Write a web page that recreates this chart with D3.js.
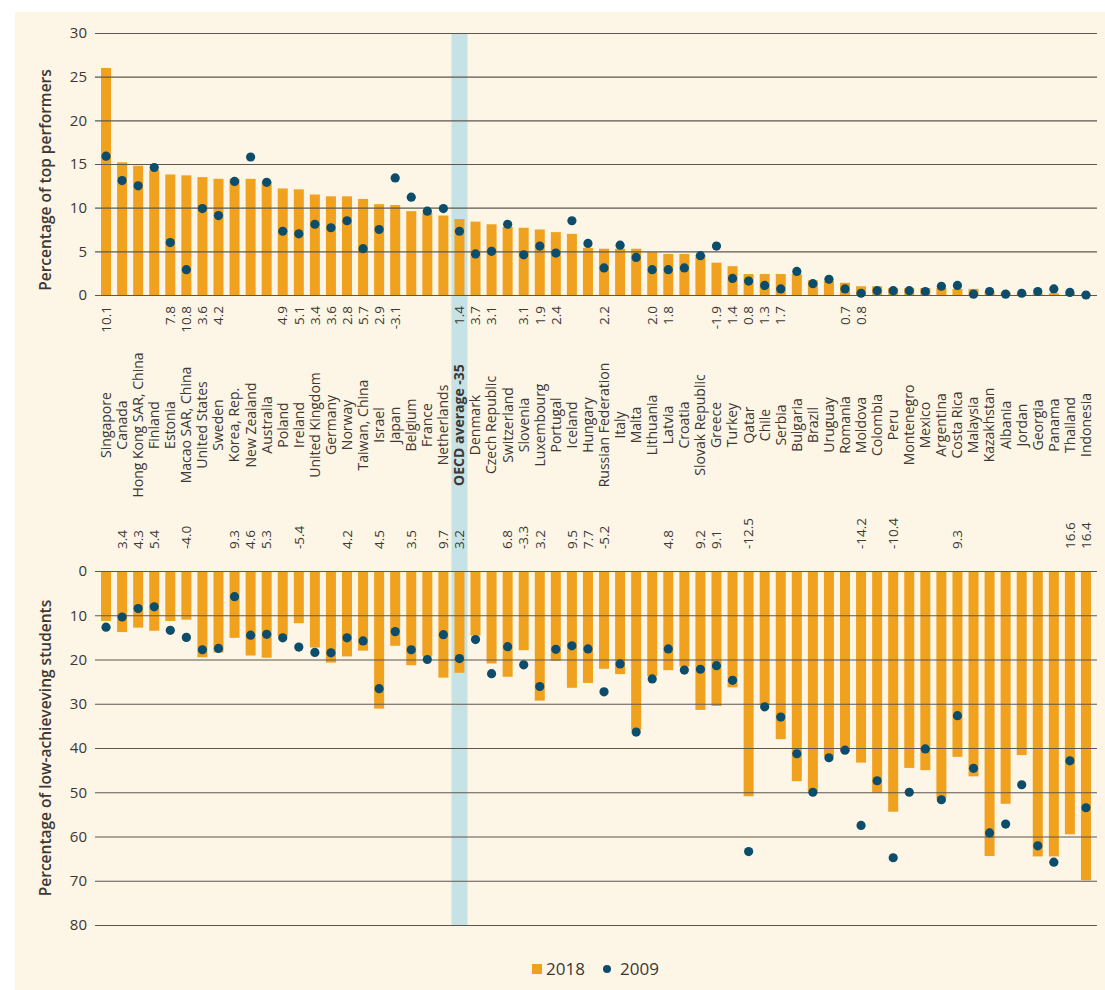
<!DOCTYPE html>
<html><head><meta charset="utf-8">
<script src="https://cdn.jsdelivr.net/npm/d3@7"></script>
<style>
body{margin:0;background:#fff;}
svg{display:block;font-family:"Open Sans","Noto Sans",sans-serif;}
</style></head>
<body><svg id="c" width="1105" height="990"></svg>
<script>
const countries = ["Singapore","Canada","Hong Kong SAR, China","Finland","Estonia","Macao SAR, China","United States","Sweden","Korea, Rep.","New Zealand",
"Australia","Poland","Ireland","United Kingdom","Germany","Norway","Taiwan, China","Israel","Japan","Belgium",
"France","Netherlands","OECD average -35","Denmark","Czech Republic","Switzerland","Slovenia","Luxembourg","Portugal","Iceland",
"Hungary","Russian Federation","Italy","Malta","Lithuania","Latvia","Croatia","Slovak Republic","Greece","Turkey",
"Qatar","Chile","Serbia","Bulgaria","Brazil","Uruguay","Romania","Moldova","Colombia","Peru",
"Montenegro","Mexico","Argentina","Costa Rica","Malaysia","Kazakhstan","Albania","Jordan","Georgia","Panama",
"Thailand","Indonesia"];
const highlight = "OECD average -35";

const top2018 = [26.0,15.2,14.8,14.3,13.8,13.7,13.5,13.3,13.3,13.3,
13.0,12.2,12.1,11.5,11.3,11.3,11.0,10.4,10.3,9.6,
9.4,9.1,8.7,8.4,8.1,7.8,7.7,7.5,7.2,7.0,
5.4,5.3,5.3,5.3,4.9,4.7,4.7,4.6,3.7,3.3,
2.4,2.4,2.4,2.4,1.7,1.6,1.4,1.0,1.0,0.8,
0.8,0.8,0.8,0.7,0.7,0.4,0.3,0.2,0.2,0.2,
0.2,0.1];
const top2009 = [15.9,13.1,12.5,14.6,6.0,2.9,9.9,9.1,13.0,15.8,
12.9,7.3,7.0,8.1,7.7,8.5,5.3,7.5,13.4,11.2,
9.6,9.9,7.3,4.7,5.0,8.1,4.6,5.6,4.8,8.5,
5.9,3.1,5.7,4.3,2.9,2.9,3.1,4.5,5.6,1.9,
1.6,1.1,0.7,2.7,1.3,1.8,0.7,0.2,0.5,0.5,
0.5,0.4,1.0,1.1,0.1,0.4,0.1,0.2,0.4,0.7,
0.3,0.0];
const low2018 = [11.3,13.8,12.8,13.5,11.3,11.0,19.5,18.4,15.1,19.1,
19.6,14.7,11.8,17.3,20.7,19.3,18.0,31.1,16.9,21.3,
19.3,24.1,23.0,14.6,20.9,23.9,17.9,29.3,20.3,26.4,
25.3,22.1,23.3,35.9,23.8,22.4,21.6,31.4,30.5,26.3,
50.9,30.3,38.0,47.5,49.8,41.9,40.8,43.3,50.1,54.4,
44.5,45.0,51.4,42.0,46.4,64.4,52.6,41.6,64.5,64.5,
59.5,69.9];
const low2009 = [12.7,10.4,8.5,8.1,13.4,15.0,17.8,17.5,5.8,14.5,
14.3,15.1,17.2,18.4,18.5,15.1,15.8,26.6,13.7,17.8,
20.0,14.4,19.8,15.5,23.2,17.1,21.2,26.1,17.7,16.9,
17.6,27.3,21.0,36.4,24.4,17.6,22.4,22.2,21.4,24.7,
63.4,30.7,33.0,41.3,50.0,42.2,40.5,57.5,47.4,64.8,
50.0,40.2,51.7,32.7,44.6,59.2,57.2,48.3,62.1,65.8,
42.9,53.5];
const topDiff = ["10.1","","","","7.8","10.8","3.6","4.2","","",
"","4.9","5.1","3.4","3.6","2.8","5.7","2.9","-3.1","",
"","","1.4","3.7","3.1","","3.1","1.9","2.4","",
"","2.2","","","2.0","1.8","","","-1.9","1.4",
"0.8","1.3","1.7","","","","0.7","0.8","","",
"","","","","","","","","","",
"",""];
const lowDiff = ["","3.4","4.3","5.4","","-4.0","","","9.3","4.6",
"5.3","","-5.4","","","4.2","","4.5","","3.5",
"","9.7","3.2","","","6.8","-3.3","3.2","","9.5",
"7.7","-5.2","","","","4.8","","9.2","9.1","",
"-12.5","","","","","","","-14.2","","-10.4",
"","","","9.3","","","","","","",
"16.6","16.4"];
const topTicks = [0,5,10,15,20,25,30];
const lowTicks = [0,10,20,30,40,50,60,70,80];
const legendLabels = ["2018","2009"];
const topTitle = "Percentage of top performers";
const lowTitle = "Percentage of low-achieveving students";

const C_BAR = "#F0A21F", C_DOT = "#0B4D6B", C_BG = "#FDF5E5", C_GRID = "#5e5750", C_TXT = "#3b3835", C_HL = "#C6E2E5";

const svg = d3.select("#c");
svg.append("rect").attr("x",15).attr("y",12).attr("width",1090).attr("height",978).attr("fill",C_BG);

const x = d3.scaleBand().domain(countries).range([98,1094]).padding(0);
const cx = d => x(d) + x.bandwidth()/2;
const yT = d3.scaleLinear().domain([0,30]).range([295,33]);
const yL = d3.scaleLinear().domain([0,80]).range([571,925]);
const barW = 10, r = 4.6;

// highlight band
svg.append("rect").attr("x", cx(highlight)-8).attr("width",16)
  .attr("y", yT(30)).attr("height", yL(80)-yT(30)).attr("fill", C_HL);

// top bars
svg.append("g").selectAll("rect").data(countries).join("rect")
  .attr("x", d => cx(d)-barW/2).attr("width", barW)
  .attr("y", (d,i) => yT(top2018[i])).attr("height", (d,i) => yT(0)-yT(top2018[i]))
  .attr("fill", C_BAR);
// low bars
svg.append("g").selectAll("rect").data(countries).join("rect")
  .attr("x", d => cx(d)-barW/2).attr("width", barW)
  .attr("y", yL(0)).attr("height", (d,i) => yL(low2018[i])-yL(0))
  .attr("fill", C_BAR);

// axes (gridlines)
const gT = svg.append("g").attr("transform","translate(1097,0)")
  .call(d3.axisLeft(yT).tickValues(topTicks).tickSize(1002).tickPadding(8));
const gL = svg.append("g").attr("transform","translate(1097,0)")
  .call(d3.axisLeft(yL).tickValues(lowTicks).tickSize(1002).tickPadding(8));
[gT,gL].forEach(g=>{
  g.select(".domain").remove();
  g.selectAll(".tick line").attr("stroke",C_GRID).attr("stroke-width",1.1);
  g.selectAll(".tick text").attr("fill",C_TXT).attr("font-size",15).attr("font-family","Open Sans, sans-serif");
});

// dots
svg.append("g").selectAll("circle").data(countries).join("circle")
  .attr("cx", cx).attr("cy", (d,i)=>yT(top2009[i])).attr("r", r).attr("fill", C_DOT);
svg.append("g").selectAll("circle").data(countries).join("circle")
  .attr("cx", cx).attr("cy", (d,i)=>yL(low2009[i])).attr("r", r).attr("fill", C_DOT);

// top diff labels
svg.append("g").selectAll("text").data(countries).join("text")
  .attr("transform", d => `translate(${cx(d)},306) rotate(-90)`)
  .attr("text-anchor","end").attr("dy","0.35em")
  .attr("font-size",13.5).attr("fill",C_TXT)
  .text((d,i)=>topDiff[i]);
// country labels
svg.append("g").selectAll("text").data(countries).join("text")
  .attr("transform", d => `translate(${cx(d)},425) rotate(-90)`)
  .attr("text-anchor","middle").attr("dy","0.35em")
  .attr("font-size",14).attr("fill",C_TXT)
  .attr("font-weight", d => d===highlight ? 700 : 400)
  .text(d=>d);
// low diff labels
svg.append("g").selectAll("text").data(countries).join("text")
  .attr("transform", d => `translate(${cx(d)},549) rotate(-90)`)
  .attr("text-anchor","start").attr("dy","0.35em")
  .attr("font-size",13.5).attr("fill",C_TXT)
  .text((d,i)=>lowDiff[i]);

// axis titles
svg.append("text").attr("transform",`translate(46,${(yT(0)+yT(30))/2+16}) rotate(-90)`)
  .attr("text-anchor","middle").attr("dy","0.35em").attr("font-size",15.5).attr("font-weight",600)
  .attr("fill",C_TXT).text(topTitle);
svg.append("text").attr("transform",`translate(46,${(yL(0)+yL(80))/2}) rotate(-90)`)
  .attr("text-anchor","middle").attr("dy","0.35em").attr("font-size",15.5).attr("font-weight",600)
  .attr("fill",C_TXT).text(lowTitle);

// legend
const lg = svg.append("g").attr("transform","translate(532,969)");
lg.append("rect").attr("x",0).attr("y",-5).attr("width",10).attr("height",10).attr("fill",C_BAR);
lg.append("text").attr("x",14).attr("dy","0.35em").attr("font-size",17).attr("fill",C_TXT).text(legendLabels[0]);
lg.append("circle").attr("cx",75).attr("cy",0).attr("r",4).attr("fill",C_DOT);
lg.append("text").attr("x",88).attr("dy","0.35em").attr("font-size",17).attr("fill",C_TXT).text(legendLabels[1]);
</script></body></html>
